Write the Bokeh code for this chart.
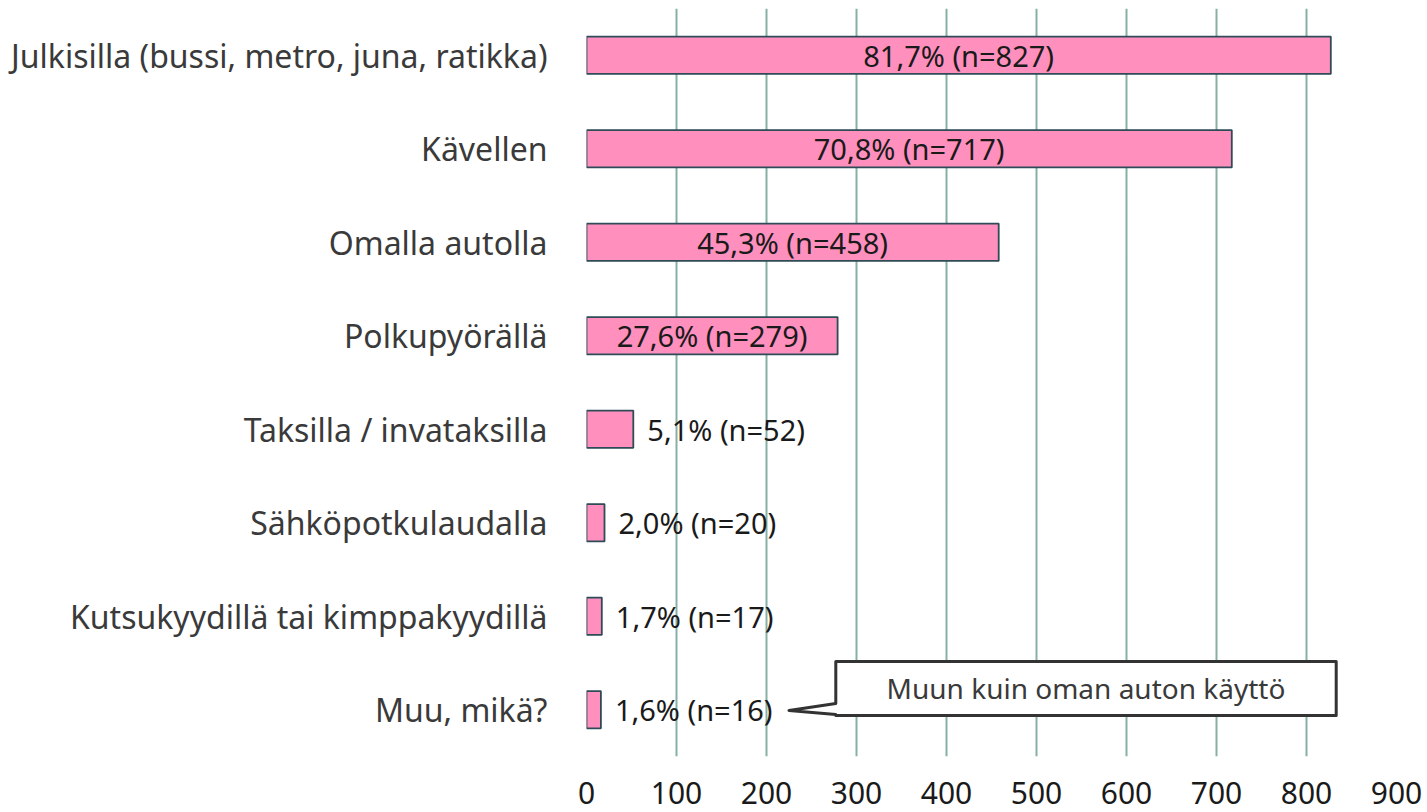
from bokeh.plotting import figure
from bokeh.models import Range1d, FixedTicker, ColumnDataSource
from bokeh.core.properties import value
from bokeh.embed import file_html
from bokeh.resources import INLINE

categories = [
    "Julkisilla (bussi, metro, juna, ratikka)",
    "Kävellen",
    "Omalla autolla",
    "Polkupyörällä",
    "Taksilla / invataksilla",
    "Sähköpotkulaudalla",
    "Kutsukyydillä tai kimppakyydillä",
    "Muu, mikä?",
]
counts = [827, 717, 458, 279, 52, 20, 17, 16]
percents = ["81,7%", "70,8%", "45,3%", "27,6%", "5,1%", "2,0%", "1,7%", "1,6%"]
x_ticks = [0, 100, 200, 300, 400, 500, 600, 700, 800, 900]
callout_text = "Muun kuin oman auton käyttö"

idx = list(range(len(categories)))
labels = [f"{p} (n={n})" for p, n in zip(percents, counts)]

W, H = 1427, 812
p = figure(width=W, height=H, output_backend="svg", toolbar_location=None,
           x_range=Range1d(0, 900), y_range=Range1d(len(categories) - 0.5, -0.5),
           min_border_left=586, min_border_right=31, min_border_top=8, min_border_bottom=56)
p.outline_line_color = None
p.background_fill_color = "white"

# grid
p.xgrid.ticker = FixedTicker(ticks=x_ticks)
p.xgrid.grid_line_color = "#86AFA6"
p.xgrid.grid_line_width = 2
p.ygrid.grid_line_color = None

src = ColumnDataSource(dict(y=idx, right=counts, label=labels))
p.hbar(y="y", right="right", left=0, height=0.4, source=src,
       fill_color="#FF90BE", line_color="#2E4B57", line_width=1.8)

# value labels: inside (centered) for large, outside for small
inside = [i for i in idx if counts[i] > 200]
outside = [i for i in idx if counts[i] <= 200]
src_in = ColumnDataSource(dict(x=[counts[i] / 2 for i in inside], y=inside,
                               t=[labels[i] for i in inside]))
src_out = ColumnDataSource(dict(x=[counts[i] for i in outside], y=outside,
                                t=[labels[i] for i in outside]))
p.text(x="x", y="y", text="t", source=src_in, text_align="center", text_baseline="middle",
       text_font=value("Noto Sans"), text_font_size="29px", text_color="#1a1a1a")
p.text(x="x", y="y", text="t", source=src_out, text_align="left", text_baseline="middle",
       x_offset=14, text_font=value("Noto Sans"), text_font_size="29px", text_color="#1a1a1a")

# callout annotation near last category
last = len(categories) - 1
bx0, bx1 = 277, 833
by0, by1 = last - 0.516, last + 0.061
p.patch(x=[bx0, bx0, bx1, bx1, bx0, bx0, 225],
        y=[by1 - 0.127, by0, by0, by1, by1, by1 - 0.127 + 0.118, last + 0.008],
        fill_color="white", line_color="#333333", line_width=3, line_join="round")
p.text(x=[(bx0 + bx1) / 2], y=[(by0 + by1) / 2], text=[callout_text],
       text_align="center", text_baseline="middle", text_font=value("Noto Sans"),
       text_font_size="28px", text_color="#3a3a3a")

# axes
p.xaxis.ticker = FixedTicker(ticks=x_ticks)
p.xaxis.axis_line_color = None
p.xaxis.major_tick_line_color = None
p.xaxis.minor_tick_line_color = None
p.xaxis.major_label_text_font = "Noto Sans"
p.xaxis.major_label_text_font_size = "30px"
p.xaxis.major_label_text_color = "#1a1a1a"
p.xaxis.major_label_standoff = 19

p.yaxis.ticker = FixedTicker(ticks=idx)
p.yaxis.major_label_overrides = {i: c for i, c in zip(idx, categories)}
p.yaxis.axis_line_color = None
p.yaxis.major_tick_line_color = None
p.yaxis.minor_tick_line_color = None
p.yaxis.major_label_text_font = "Noto Sans"
p.yaxis.major_label_text_font_size = "32px"
p.yaxis.major_label_text_color = "#3a3a3a"
p.yaxis.major_label_standoff = 33

open("out.html", "w").write(file_html(p, INLINE))
